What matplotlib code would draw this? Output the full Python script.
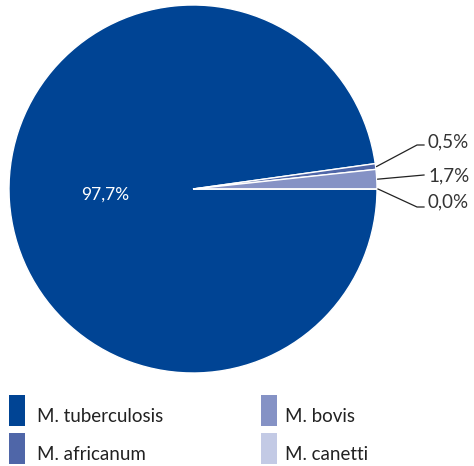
import numpy as np
import matplotlib.pyplot as plt
from matplotlib.patches import Rectangle

plt.rcParams['font.family'] = ['Lato', 'DejaVu Sans']

###############################################################################
# Data
###############################################################################
SPECIES = ['M. tuberculosis', 'M. africanum', 'M. bovis', 'M. canetti']
SHARES = [97.7, 0.5, 1.7, 0.0]
LABELS = ['97,7%', '0,5%', '1,7%', '0,0%']
COLORS = ['#004494', '#4f66a8', '#8592c5', '#c3cae5']

###############################################################################
# Plot (axes coords = image pixels, y up)
###############################################################################
W, H = 474, 466
fig = plt.figure(figsize=(W / 100, H / 100), dpi=100)
ax = fig.add_axes([0, 0, 1, 1])

cx, cy, r = 193, H - 189, 184
wedges, _ = ax.pie(
    SHARES, colors=COLORS, startangle=0, counterclock=False,
    center=(cx, cy), radius=r, frame=True,
    wedgeprops={'edgecolor': 'white', 'linewidth': 1.0}
)
ax.set_xlim(0, W)
ax.set_ylim(0, H)
ax.axis('off')

# big label inside tuberculosis wedge -----------------------------------------
w = wedges[0]
mid = np.deg2rad((w.theta1 + w.theta2) / 2)
ax.text(cx + 0.48 * r * np.cos(mid), cy + 0.48 * r * np.sin(mid), LABELS[0],
        color='white', fontsize=12.5, ha='center', va='center')

# outside labels with leader lines --------------------------------------------
label_y = {1: H - 145, 2: H - 175, 3: H - 207}
elbow_x = {1: 417, 2: 424, 3: 417}
text_dy = {1: 3, 2: -1, 3: 5}
for i in (1, 2, 3):
    w = wedges[i]
    mid = np.deg2rad((w.theta1 + w.theta2) / 2)
    x0, y0 = cx + r * np.cos(mid) + 1, cy + r * np.sin(mid)
    ly = label_y[i]
    ax.plot([x0, elbow_x[i], 424], [y0, ly, ly], color='#222222', lw=0.9)
    ax.text(428, ly + text_dy[i], LABELS[i], color='#333333', fontsize=13.5,
            ha='left', va='center')

# legend ----------------------------------------------------------------------
cols = [(9, 37), (261, 285)]
rows = [H - 426, H - 464]
for i, name in enumerate(SPECIES):
    (bx, tx) = cols[i // 2]
    by = rows[i % 2]
    ax.add_patch(Rectangle((bx, by), 16, 31, facecolor=COLORS[i],
                           edgecolor='none'))
    ax.text(tx, by + 9, name, color='#222222', fontsize=13.5,
            ha='left', va='center')

fig.savefig('out.png', dpi=100)
